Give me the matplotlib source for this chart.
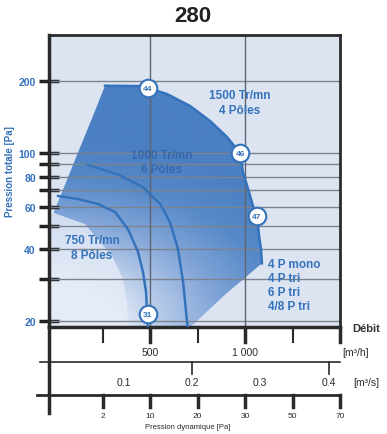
import numpy as np
import matplotlib
matplotlib.use("Agg")
import matplotlib.pyplot as plt
from matplotlib.patches import Polygon
from matplotlib.colors import LinearSegmentedColormap

plt.rcParams['font.family'] = ['Liberation Sans', 'DejaVu Sans']

# débit [m3/h], pression totale [Pa]
CURVE_1500_X = [263, 447, 489, 589, 711, 816, 905, 974, 989, 1021, 1042, 1063, 1074, 1084, 1089]
CURVE_1500_Y = [191.2, 190.6, 187.0, 176.6, 157.3, 136.3, 116.9, 100.2, 83.6, 68.9, 60.3, 54.8, 45.2, 39.9, 34.8]
# rest of the working zone outline (bottom and left side)
ZONE_X = [893, 700, -32, -32, -11, 64, 128, 193]
ZONE_Y = [25.7, 18.5, 18.5, 55.8, 55.8, 78.0, 104.1, 138.9]
PALE_X = [-32, 158, 300, 358, 379, 384, -32]
PALE_Y = [57.4, 50.7, 37.3, 29.9, 23.6, 18.5, 18.5]
CURVE_1000_X = [174, 326, 463, 553, 605, 647, 674, 695, 700]
CURVE_1000_Y = [89.3, 81.9, 72.3, 61.5, 51.7, 39.9, 29.1, 19.8, 18.5]
CURVE_750_X = [16, 121, 226, 316, 384, 437, 463, 479, 484, 489]
CURVE_750_Y = [66.4, 64.5, 61.5, 56.9, 48.3, 38.8, 32.0, 26.4, 21.8, 18.5]
POINT_LABELS = ["44", "46", "47", "31"]
POINT_X = [489, 974, 1063, 489]
POINT_Y = [187.0, 100.2, 54.8, 21.4]

Y_GRID = [20, 30, 40, 50, 60, 70, 80, 90, 100, 200]
Y_LABELED = [20, 40, 60, 80, 100, 200]
FLOW_TICKS = [250, 500, 750, 1000, 1250, 1500]
FLOW_LABELS = {500: "500", 1000: "1 000"}
FLOW_S = [0.1, 0.2, 0.3, 0.4]
FLOW_S_TICKS = [0.2, 0.4]
PDYN_TICKS = [250, 500, 750, 1000, 1250, 1500]
PDYN_LABELS = ["2", "10", "20", "30", "50", "70"]

BLUE = "#3472bb"
BG = "#dce4f2"
XMIN, XMAX = -32, 1500
YMIN, YMAX = 18.9, 311

fig = plt.figure(figsize=(3.87, 4.35), dpi=100)
ax = fig.add_axes([49 / 387, 107 / 435, 291 / 387, 292 / 435])
ax.set_facecolor(BG)
ax.set_yscale("log")
ax.set_xlim(XMIN, XMAX)
ax.set_ylim(YMIN, YMAX)

# gradient fill of the working zone, light towards the lower left corner
# (image rows are linear in pressure, so convert them to their height on the log axis)
cmap = LinearSegmentedColormap.from_list("g", ["#e4ebf7", "#b3c8e8", "#80a4d7", "#5589c8", "#4a7fc2"])
yy = np.linspace(YMIN, YMAX, 2000)
h = 292 * np.log(yy / YMIN) / np.log(YMAX / YMIN)
u, v = np.meshgrid(np.linspace(0, 291, 300), h)
t = np.clip((np.hypot(u * 0.7, v * 1.1) - 50) / 160, 0, 1) ** 0.85
img = ax.imshow(t, cmap=cmap, origin="lower", extent=[XMIN, XMAX, YMIN, YMAX],
                aspect="auto", zorder=1, interpolation="bilinear")
zone = Polygon(np.column_stack([CURVE_1500_X + ZONE_X, CURVE_1500_Y + ZONE_Y]), closed=True,
               facecolor="none", edgecolor="none")
ax.add_patch(zone)
img.set_clip_path(zone)
ax.fill(PALE_X, PALE_Y, color="#e6ecf7", alpha=0.8, lw=0, zorder=1.5)
ax.set_xlim(XMIN, XMAX)
ax.set_ylim(YMIN, YMAX)

for y in Y_GRID:
    ax.axhline(y, color="#7d838e", lw=1, zorder=2)
for x in [500, 1000]:
    ax.axvline(x, color="#5f6570", lw=1, zorder=2)

ax.plot(CURVE_1500_X, CURVE_1500_Y, color=BLUE, lw=1.8, zorder=3)
ax.plot(CURVE_1000_X, CURVE_1000_Y, color=BLUE, lw=1.8, zorder=3)
ax.plot(CURVE_750_X, CURVE_750_Y, color=BLUE, lw=1.8, zorder=3)
ax.scatter(POINT_X, POINT_Y, s=160, facecolor="white", edgecolor=BLUE, lw=1.5, zorder=4)
for lab, x, y in zip(POINT_LABELS, POINT_X, POINT_Y):
    ax.text(x, y, lab, color=BLUE, fontsize=6, fontweight="bold", ha="center", va="center", zorder=5)

ax.text(974, 163, "1500 Tr/mn\n4 Pôles", color=BLUE, fontsize=8.5, fontweight="bold",
        ha="center", va="center", linespacing=1.3, zorder=5)
ax.text(563, 92, "1000 Tr/mn\n6 Pôles", color="#2f63a8", alpha=0.8, fontsize=8.5, fontweight="bold",
        ha="center", va="center", linespacing=1.3, zorder=5)
ax.text(195, 40.6, "750 Tr/mn\n8 Pôles", color=BLUE, fontsize=8.5, fontweight="bold",
        ha="center", va="center", linespacing=1.3, zorder=5)
ax.text(1121, 36.5, "4 P mono\n4 P tri\n6 P tri\n4/8 P tri", color=BLUE, fontsize=8.5,
        fontweight="bold", ha="left", va="top", linespacing=1.2, zorder=5)

ax.set_yticks(Y_GRID)
ax.set_yticklabels([str(y) if y in Y_LABELED else "" for y in Y_GRID])
ax.minorticks_off()
ax.tick_params(axis="y", direction="inout", length=15, width=2.5, color="#222222",
               labelcolor=BLUE, labelsize=7.5, pad=2)
for lab in ax.get_yticklabels():
    lab.set_fontweight("bold")
ax.set_xticks([])
for s in ax.spines.values():
    s.set_color("#2a2a2a")
    s.set_linewidth(2)
ax.spines["left"].set_linewidth(2.5)
ax.spines["bottom"].set_linewidth(2.5)

# scales under the chart, y in pixels from the top
bx = fig.add_axes([49 / 387, 0, 291 / 387, 107 / 435], sharex=ax)
bx.set_ylim(435, 328)
bx.axis("off")
k = "#2a2a2a"
bx.plot([XMIN, XMIN], [328, 414], color=k, lw=2.5, clip_on=False)
for x in FLOW_TICKS:
    bx.plot([x, x], [329, 343], color=k, lw=2.5 if x in (500, 1000, 1500) else 1.5, clip_on=False)
    if x in FLOW_LABELS:
        bx.text(x, 353, FLOW_LABELS[x], fontsize=7.5, ha="center", va="center", color=k)
bx.text(1580, 353, "[m³/h]", fontsize=7.5, ha="center", va="center", color=k, clip_on=False)

bx.plot([-79, XMAX], [363, 363], color=k, lw=1.2, clip_on=False)
for v in FLOW_S:
    bx.text(v * 3600, 383, f"{v:.1f}", fontsize=7.5, ha="center", va="center", color=k, clip_on=False)
for v in FLOW_S_TICKS:
    bx.plot([v * 3600, v * 3600], [363, 375], color=k, lw=1.2, clip_on=False)
bx.text(1640, 383, "[m³/s]", fontsize=7.5, ha="center", va="center", color=k, clip_on=False)

bx.plot([-95, XMAX], [396, 396], color=k, lw=2, clip_on=False)
for x, lab in zip(PDYN_TICKS, PDYN_LABELS):
    bx.plot([x, x], [396, 408], color=k, lw=2.5, clip_on=False)
    bx.text(x, 417, lab, fontsize=6, ha="center", va="center", color=k, clip_on=False)
bx.text(700, 428, "Pression dynamique [Pa]", fontsize=5.5, ha="center", va="center", color=k, clip_on=False)

fig.text(352 / 387, 1 - 329 / 435, "Débit", fontsize=8, fontweight="bold", color="#333333", va="center")
fig.text(193 / 387, 1 - 17 / 435, "280", fontsize=16, fontweight="bold", color="#222222",
         ha="center", va="center")
fig.text(10 / 387, 1 - 172 / 435, "Pression totale [Pa]", fontsize=7, fontweight="bold", color=BLUE,
         rotation=90, ha="center", va="center")

fig.savefig("out.png", dpi=100)
